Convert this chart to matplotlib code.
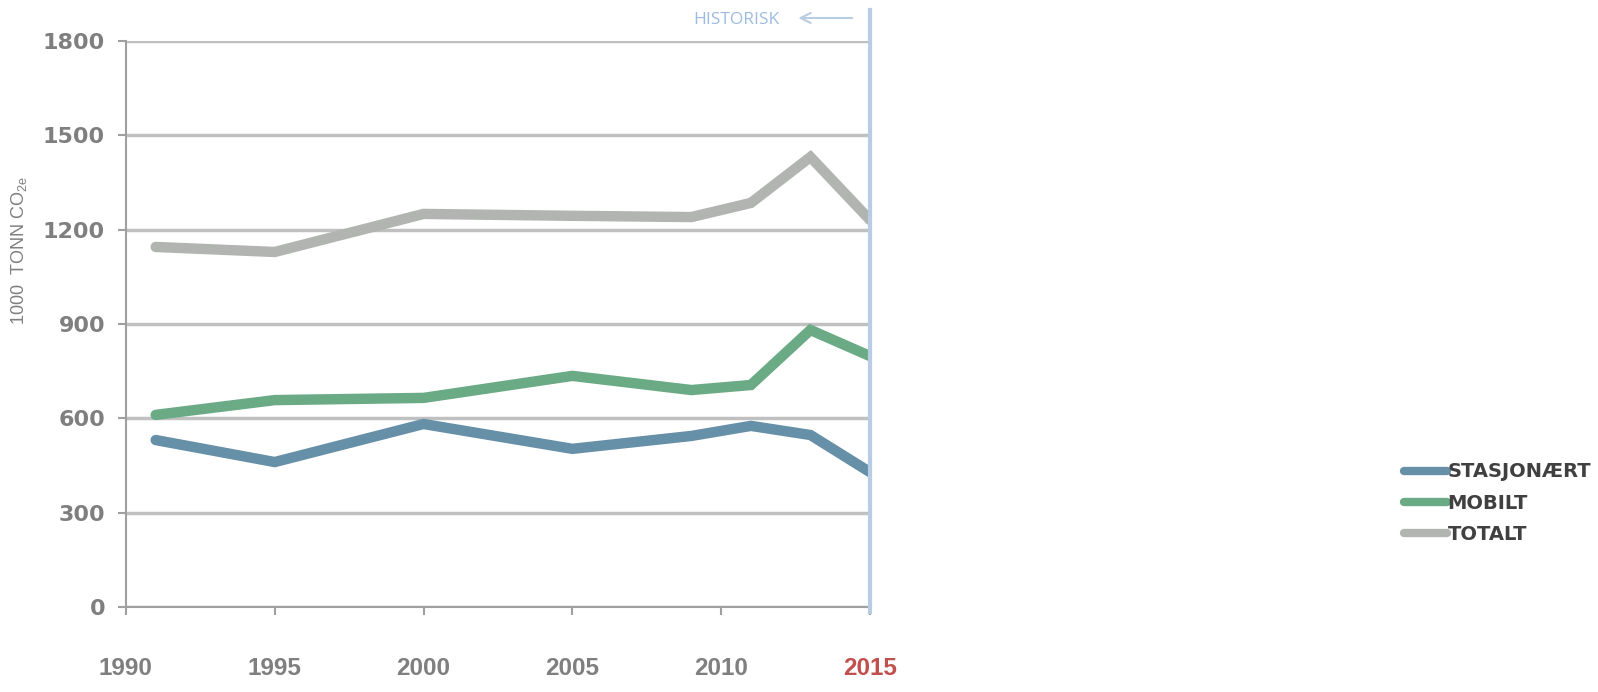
import matplotlib.pyplot as plt

years = [1991, 1995, 2000, 2005, 2009, 2011, 2013, 2015]
stasjonaert = [531, 461, 582, 503, 544, 576, 547, 429]
mobilt = [611, 658, 665, 735, 690, 706, 881, 798]
totalt = [1145, 1129, 1250, 1244, 1240, 1285, 1431, 1231]

series_names = ["STASJONÆRT", "MOBILT", "TOTALT"]
series_colors = ["#668fa8", "#6aaa84", "#b2b4b2"]
x_ticks = [1990, 1995, 2000, 2005, 2010, 2015]
y_ticks = [0, 300, 600, 900, 1200, 1500, 1800]

plt.rcParams["mathtext.fontset"] = "custom"
plt.rcParams["mathtext.rm"] = "Liberation Sans"

fig = plt.figure(figsize=(15.98, 6.92), dpi=100)
ax = fig.add_axes([0.0788, 0.1228, 0.4656, 0.818])

for vals, name, col in zip([stasjonaert, mobilt, totalt], series_names, series_colors):
    ax.plot(years, vals, color=col, lw=7.5, label=name, solid_capstyle="round",
            solid_joinstyle="miter")

ax.set_xlim(1990, 2015)
ax.set_ylim(0, 1800)
ax.set_xticks(x_ticks)
ax.set_yticks(y_ticks)
ax.yaxis.grid(True, color="#c0c0c0", lw=2.5)
ax.set_axisbelow(True)

for s in ["top", "right"]:
    ax.spines[s].set_visible(False)
for s in ["left", "bottom"]:
    ax.spines[s].set_color("#a0a0a0")
    ax.spines[s].set_linewidth(1.5)

ax.tick_params(axis="y", length=6, width=1.5, color="#a0a0a0", pad=9)
ax.tick_params(axis="x", length=6, width=1.5, color="#a0a0a0", pad=30)
for lab in ax.get_yticklabels():
    lab.set_fontfamily("DejaVu Sans")
    lab.set_fontweight("bold")
    lab.set_fontsize(16)
    lab.set_color("#7f7f7f")
for lab in ax.get_xticklabels():
    lab.set_fontfamily("Liberation Sans")
    lab.set_fontweight("bold")
    lab.set_fontsize(17.5)
    lab.set_color("#7f7f7f")
ax.get_xticklabels()[-1].set_color("#c0504d")

ax.set_ylabel("1000  TONN CO$_{\\mathrm{2e}}$", fontsize=13, color="#7f7f7f",
              fontfamily="Liberation Sans")
ax.yaxis.set_label_coords(-0.13, 0.629)

# historisk marker
ax.plot([2015, 2015], [-16, 1899], color="#b8cce4", lw=3, clip_on=False, zorder=5)
ax.annotate("", xy=(2012.5, 1873), xytext=(2014.5, 1873),
            arrowprops=dict(arrowstyle="->", color="#b8cce4", lw=1.5, mutation_scale=18),
            annotation_clip=False)
ax.text(2011.95, 1868, "HISTORISK", color="#9dbbe0", fontsize=12.5, ha="right",
        va="center", fontfamily="Open Sans")

leg = fig.legend(loc="upper left", bbox_to_anchor=(0.8675, 0.357), frameon=False,
                 handlelength=2.2, handletextpad=0.05, labelspacing=0.62,
                 prop={"family": "DejaVu Sans", "weight": "bold", "size": 14})
for t in leg.get_texts():
    t.set_color("#404040")
for h in leg.legend_handles:
    h.set_linewidth(6)

fig.savefig("out.png", dpi=100)
